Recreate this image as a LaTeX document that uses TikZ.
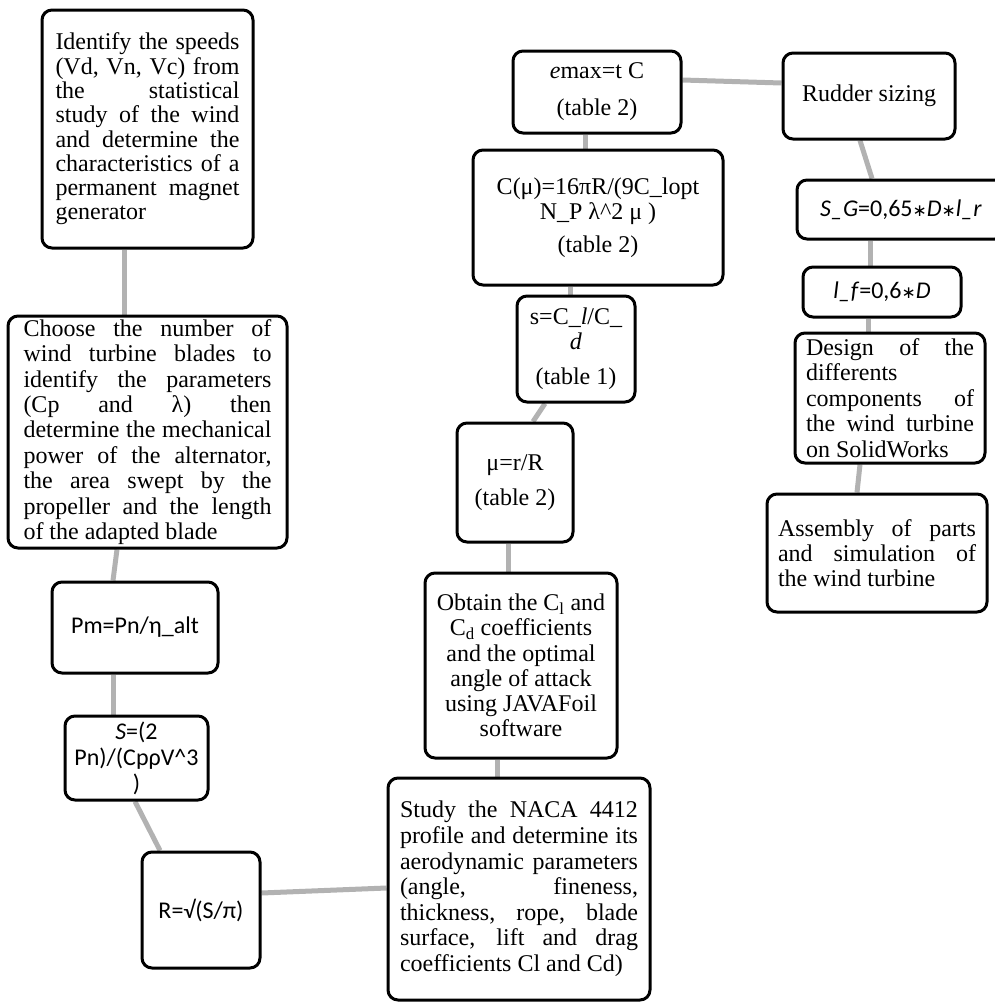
\documentclass[tikz,border=0pt]{standalone}
\usepackage{fontspec}
\setmainfont{Liberation Serif}
\newfontfamily\calib{Carlito}
\newfontfamily\symfont{DejaVu Sans}
\usepackage{tikz}
\usetikzlibrary{calc,backgrounds}
\newcommand\opast{{\symfont\fontsize{17}{17}\selectfont ∗}}
\tikzset{%
  stage/.style={
    draw,
    line width=3pt,
    rounded corners=10pt,
    fill=white,
    inner sep=0pt,
    font=\fontsize{24}{25}\selectfont
  },
  para/.style={
    align=justify,
    execute at begin node={\hyphenpenalty=10000\exhyphenpenalty=10000\tolerance=10000\hbadness=10000}
  },
  formula/.style={
    stage,
    align=center,
    font=\calib\fontsize{24}{26}\selectfont
  },
  link/.style={
    line width=5pt,
    black!30
  },
}

\begin{document}
\begin{tikzpicture}[x=1pt, y=-1pt]
\useasboundingbox (0,0) rectangle (995,1002);

    % left column
    \node[stage, para, minimum width=211pt, minimum height=238pt, text width=184pt,
          font=\fontsize{24}{24.3}\selectfont] (speeds) at (147.5,129)
        {Identify the speeds\linebreak (Vd, Vn, Vc) from\linebreak the statistical\linebreak
         study of the wind\linebreak and determine the\linebreak characteristics of a\linebreak
         permanent magnet\linebreak generator};
    \node[stage, para, minimum width=279pt, minimum height=232pt, text width=248pt,
          font=\fontsize{24}{25.4}\selectfont] (blades) at (147.5,432)
        {Choose the number of\linebreak wind turbine blades to\linebreak identify the parameters\linebreak
         (Cp and λ) then\linebreak determine the mechanical\linebreak power of the alternator,\linebreak
         the area swept by the\linebreak propeller and the length\linebreak of the adapted blade};
    \node[formula, minimum width=166pt, minimum height=91pt] (mechpower) at (135,627.5)
        {Pm=Pn/η\_alt};
    \node[formula, minimum width=143pt, minimum height=84pt] (sweptarea) at (136.5,758)
        {\textit{S}=(2\\ Pn)/(CpρV\textasciicircum 3\\ )};
    \node[formula, minimum width=118pt, minimum height=116pt] (radius) at (201,910)
        {R=√(S/π)};

    % middle column
    \node[stage, para, minimum width=262pt, minimum height=222pt, text width=238pt,
          font=\fontsize{24}{25.6}\selectfont] (naca) at (519,889)
        {Study the NACA 4412\linebreak profile and determine its\linebreak aerodynamic parameters\linebreak
         (angle, fineness,\linebreak thickness, rope, blade\linebreak surface, lift and drag\linebreak
         coefficients Cl and Cd)};
    \node[stage, align=center, minimum width=192pt, minimum height=185pt,
          font=\fontsize{24}{25.2}\selectfont] (javafoil) at (521,665.5)
        {Obtain the C\textsubscript{l} and\\ C\textsubscript{d} coefficients\\ and the optimal\\
         angle of attack\\ using JAVAFoil\\ software};
    \node[stage, align=center, minimum width=116pt, minimum height=119pt] (relradius) at (515,482.5)
        {μ=r/R\\[10pt] (table 2)};
    \node[stage, align=center, minimum width=118pt, minimum height=106pt] (fineness) at (576,349)
        {s=C\_\textit{l}/C\_\\ \textit{d}\\[10pt] (table 1)};
    \node[stage, align=center, minimum width=250pt, minimum height=135pt] (chord) at (598,217.5)
        {C(μ)=16πR/(9C\_lopt\\ N\_P λ\textasciicircum 2 μ )\\[8pt] (table 2)};
    \node[stage, align=center, minimum width=168pt, minimum height=82pt] (thickness) at (597,92)
        {\textit{e}max=t C\\[12pt] (table 2)};

    % right column
    \node[stage, minimum width=172pt, minimum height=86pt] (rudder) at (869,96)
        {Rudder sizing};
    \node[formula, minimum width=208pt, minimum height=59pt] (ruddersurf) at (901,209.5)
        {\textit{S\_G}=0,65\opast\textit{D}\opast\textit{l\_r}};
    \node[formula, minimum width=158pt, minimum height=50pt] (rudderlen) at (882,292)
        {\textit{l\_f}=0,6\opast\textit{D}};
    \node[stage, para, minimum width=190pt, minimum height=130pt, text width=168pt,
          font=\fontsize{24}{25.4}\selectfont] (design) at (890,398)
        {Design of the\linebreak differents\linebreak components of\linebreak
         the wind turbine\linebreak on SolidWorks};
    \node[stage, para, minimum width=220pt, minimum height=118pt, text width=198pt] (assembly) at (877,553)
        {Assembly of parts\linebreak and simulation of\linebreak the wind turbine};

    \begin{scope}[on background layer]
    \draw[link] ($(speeds.south)+(-23.5,0)$) -- ($(blades.north)+(-23.5,0)$);
    \draw[link] ($(blades.south)+(-30.5,0)$) -- ($(mechpower.north)+(-22,0)$);
    \draw[link] ($(mechpower.south)+(-22,0)$) -- ($(sweptarea.north)+(-23.5,0)$);
    \draw[link] ($(sweptarea.south)+(-1.5,0)$) -- ($(radius.north)+(-41,0)$);
    \draw[link] ($(radius.east)+(0,-17)$) -- ($(naca.west)+(0,-1)$);
    \draw[link] ($(naca.north)+(-22,0)$) -- ($(javafoil.south)+(-24,0)$);
    \draw[link] ($(javafoil.north)+(-13,0)$) -- ($(relradius.south)+(-7,0)$);
    \draw[link] ($(relradius.north)+(18,0)$) -- ($(fineness.south)+(-31,0)$);
    \draw[link] ($(fineness.north)+(-6,0)$) -- ($(chord.south)+(-28,0)$);
    \draw[link] ($(chord.north)+(-13,0)$) -- ($(thickness.south)+(-12,0)$);
    \draw[link] ($(thickness.east)+(0,-12)$) -- ($(rudder.west)+(0,-13)$);
    \draw[link] ($(rudder.south)+(-9,0)$) -- ($(ruddersurf.north)+(-29,0)$);
    \draw[link] ($(ruddersurf.south)+(-31,0)$) -- ($(rudderlen.north)+(-12,0)$);
    \draw[link] ($(rudderlen.south)+(-14,0)$) -- ($(design.north)+(-22,0)$);
    \draw[link] ($(design.south)+(-30,0)$) -- ($(assembly.north)+(-20,0)$);
    \end{scope}
\end{tikzpicture}
\end{document}
